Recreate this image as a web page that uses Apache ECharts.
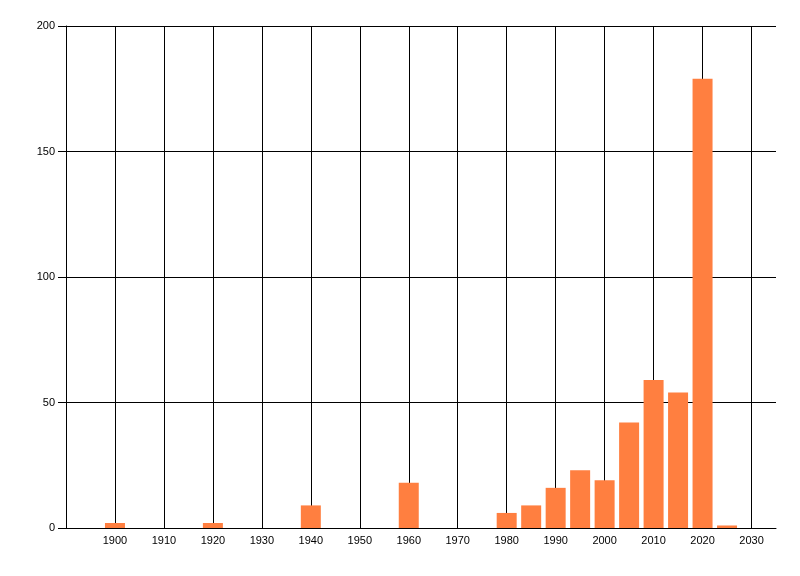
<!DOCTYPE html>
<html lang="en">
<head>
<meta charset="UTF-8">
<title>Bars by year</title>
<script src="https://cdn.jsdelivr.net/npm/echarts@6/dist/echarts.min.js"></script>
<style>
  html, body { margin: 0; padding: 0; background: #fff; }
  #chart { width: 800px; height: 576px; }
</style>
</head>
<body>
<div id="chart"></div>
<script>
// years (bar centres) and counts
var years  = [1900, 1920, 1940, 1960, 1980, 1985, 1990, 1995, 2000, 2005, 2010, 2015, 2020, 2025];
var counts = [2,    2,    9,    18,   6,    9,    16,   23,   19,   42,   59,   54,   179,  1];
var xTicks = [1900, 1910, 1920, 1930, 1940, 1950, 1960, 1970, 1980, 1990, 2000, 2010, 2020, 2030];
var yTicks = [0, 50, 100, 150, 200];

var barData = years.map(function (y, i) { return [y, counts[i]]; });

var chart = echarts.init(document.getElementById('chart'));
var option = {
  animation: false,
  textStyle: { fontFamily: 'Liberation Sans, Arial, sans-serif' },
  grid: { left: 66, right: 24, top: 26, bottom: 48, containLabel: false },
  xAxis: {
    type: 'value',
    min: 1890,
    max: 2035,
    interval: 10,
    axisLine: { show: true, onZero: false, lineStyle: { color: '#000', width: 1 } },
    axisTick: { show: false },
    axisLabel: {
      color: '#000',
      fontSize: 11,
      margin: 7,
      showMinLabel: false,
      showMaxLabel: false,
      formatter: function (v) { return xTicks.indexOf(v) >= 0 ? String(v) : ''; }
    },
    splitLine: { show: true, showMinLine: false, showMaxLine: false, lineStyle: { color: '#000', width: 1 } }
  },
  yAxis: {
    type: 'value',
    min: yTicks[0],
    max: yTicks[yTicks.length - 1],
    interval: 50,
    axisLine: { show: true, lineStyle: { color: '#000', width: 1 } },
    axisTick: { show: true, length: 8, lineStyle: { color: '#000' } },
    axisLabel: { color: '#000', fontSize: 11, margin: 11 },
    splitLine: { show: true, lineStyle: { color: '#000', width: 1 } }
  },
  series: [{
    type: 'bar',
    data: barData,
    barWidth: 20,
    itemStyle: { color: '#ff7f40' }
  }]
};
chart.setOption(option);
</script>
</body>
</html>
